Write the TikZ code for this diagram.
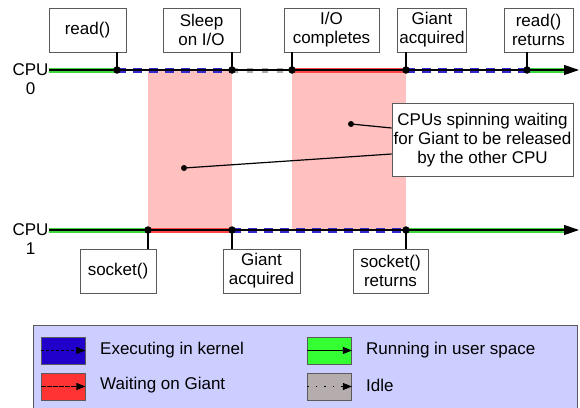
\documentclass[tikz,border=0pt]{standalone}
\usepackage{fontspec}
\setmainfont{Liberation Sans}
\usetikzlibrary{arrows.meta}
\definecolor{gline}{RGB}{60,215,60}
\definecolor{bline}{RGB}{50,40,210}
\definecolor{rline}{RGB}{255,70,70}
\definecolor{iline}{RGB}{175,170,170}
\definecolor{pinkbg}{RGB}{255,192,192}
\definecolor{legbg}{RGB}{204,206,255}
\definecolor{gsw}{RGB}{51,255,51}
\definecolor{bsw}{RGB}{34,0,204}
\definecolor{rsw}{RGB}{255,51,51}
\definecolor{isw}{RGB}{181,173,173}
\definecolor{boxedge}{RGB}{90,90,90}
\begin{document}
\begin{tikzpicture}[x=1pt,y=-1pt,
  font=\fontsize{17}{19}\selectfont,
  lbl/.style={draw=boxedge, fill=white, line width=0.8pt, align=center, inner sep=0pt, minimum height=44pt},
  dot/.style={circle, fill=black, inner sep=0pt, minimum size=7.5pt},
  usr/.style={line width=5pt, draw=gline},
  kern/.style={line width=5pt, draw=bline, dash pattern=on 9pt off 7pt},
  idl/.style={line width=5pt, draw=iline, dash pattern=on 6pt off 9pt},
  wait/.style={line width=5pt, draw=rline},
  waitdots/.style={line width=1pt, draw=black!70, dash pattern=on 0.6pt off 0.6pt},
  axis/.style={line width=1.2pt, -{Triangle[length=15pt,width=10pt]}},
  conn/.style={line width=1.2pt},
  swatch/.style={draw=boxedge, line width=0.8pt, minimum width=44pt, minimum height=27pt, inner sep=0pt},
  legtext/.style={anchor=west, inner sep=0pt},
  legarrow/.style={line width=1pt, -{Triangle[length=9pt,width=7pt]}}
]
\useasboundingbox (0,0) rectangle (580,407);

% coordinates CPU 0
\coordinate (s0) at (49,70);
\coordinate (e0) at (579,70);
\coordinate (p1) at (117,70);
\coordinate (p2) at (232,70);
\coordinate (p3) at (292,70);
\coordinate (p4) at (406,70);
\coordinate (p5) at (527,70);
% coordinates CPU 1
\coordinate (s1) at (49,230);
\coordinate (e1) at (579,230);
\coordinate (q1) at (148,230);
\coordinate (q2) at (232,230);
\coordinate (q3) at (406,230);

% pink regions
\fill[pinkbg] (148,70) rectangle (q2);
\fill[pinkbg] (p3) rectangle (q3);

% CPU labels
\node[align=center, inner sep=0pt] (cpu0) at (30.5,79) {CPU\\0};
\node[align=center, inner sep=0pt] (cpu1) at (30.5,239) {CPU\\1};

% CPU 0 segments
\draw[usr] (s0) -- (p1);
\draw[kern] (p1) -- (p2);
\draw[idl] (p2) -- (p3);
\draw[wait] (p3) -- (p4);
\draw[waitdots] (p3) -- (p4);
\draw[kern] (p4) -- (p5);
\draw[usr] (p5) -- (566,70);
\draw[axis] (s0) -- (e0);

% CPU 1 segments
\draw[usr] (s1) -- (q1);
\draw[wait] (q1) -- (q2);
\draw[waitdots] (q1) -- (q2);
\draw[kern] (q2) -- (q3);
\draw[usr] (q3) -- (566,230);
\draw[axis] (s1) -- (e1);

% top labels
\node[lbl, minimum width=77pt] (t1) at (87.5,30) {read()};
\node[lbl, minimum width=77pt] (t2) at (201.5,30) {Sleep\\on I/O};
\node[lbl, minimum width=95pt] (t3) at (331.5,30) {I/O\\completes};
\node[lbl, minimum width=69pt] (t4) at (432,30) {Giant\\acquired};
\node[lbl, minimum width=69pt] (t5) at (538.5,30) {read()\\returns};

% bottom labels
\node[lbl, minimum width=76pt] (b1) at (118,271) {socket()};
\node[lbl, minimum width=77pt] (b2) at (261.5,271) {Giant\\acquired};
\node[lbl, minimum width=75pt] (b3) at (390.5,271) {socket()\\returns};

% connectors to labels
\draw[conn] (p1) -- (p1 |- t1.south);
\draw[conn] (p2) -- (p2 |- t2.south);
\draw[conn] (p3) -- (p3 |- t3.south);
\draw[conn] (p4) -- (p4 |- t4.south);
\draw[conn] (p5) -- (p5 |- t5.south);
\draw[conn] (q1) -- (q1 |- b1.north);
\draw[conn] (q2) -- (q2 |- b2.north);
\draw[conn] (q3) -- (q3 |- b3.north);

% dots
\foreach \p in {p1,p2,p3,p4,p5,q1,q2,q3} \node[dot] at (\p) {};

% callout
\node[lbl, minimum width=181pt, minimum height=73pt] (note) at (482.5,140) {CPUs spinning waiting\\for Giant to be released\\by the other CPU};
\node[dot, minimum size=6pt] (n1) at (351,124) {};
\node[dot, minimum size=6pt] (n2) at (184,168) {};
\draw[conn] (n1) -- (note.west |- 0,128);
\draw[conn] (n2) -- (note.west |- 0,154);

% legend
\node[draw=boxedge, fill=legbg, line width=0.8pt, minimum width=544pt, minimum height=90pt, inner sep=0pt] (leg) at (305,370) {};
\node[swatch, fill=bsw] (sw1) at (63,350.5) {};
\node[swatch, fill=rsw] (sw2) at (63,386.5) {};
\node[swatch, fill=gsw] (sw3) at (329.5,350.5) {};
\node[swatch, fill=isw] (sw4) at (329.5,386.5) {};
\draw[legarrow, dash pattern=on 3pt off 2pt] (sw1.west) -- (sw1.east);
\draw[legarrow, dash pattern=on 0.6pt off 0.6pt] (sw2.west) -- (sw2.east);
\draw[legarrow] (sw3.west) -- (sw3.east);
\draw[legarrow, dash pattern=on 1.5pt off 7pt] (sw4.west) -- (sw4.east);
\node[legtext] (l1) at (100,350) {Executing in kernel};
\node[legtext] (l2) at (100,385) {Waiting on Giant};
\node[legtext] (l3) at (366,350) {Running in user space};
\node[legtext] (l4) at (366,385) {Idle};
\end{tikzpicture}
\end{document}
